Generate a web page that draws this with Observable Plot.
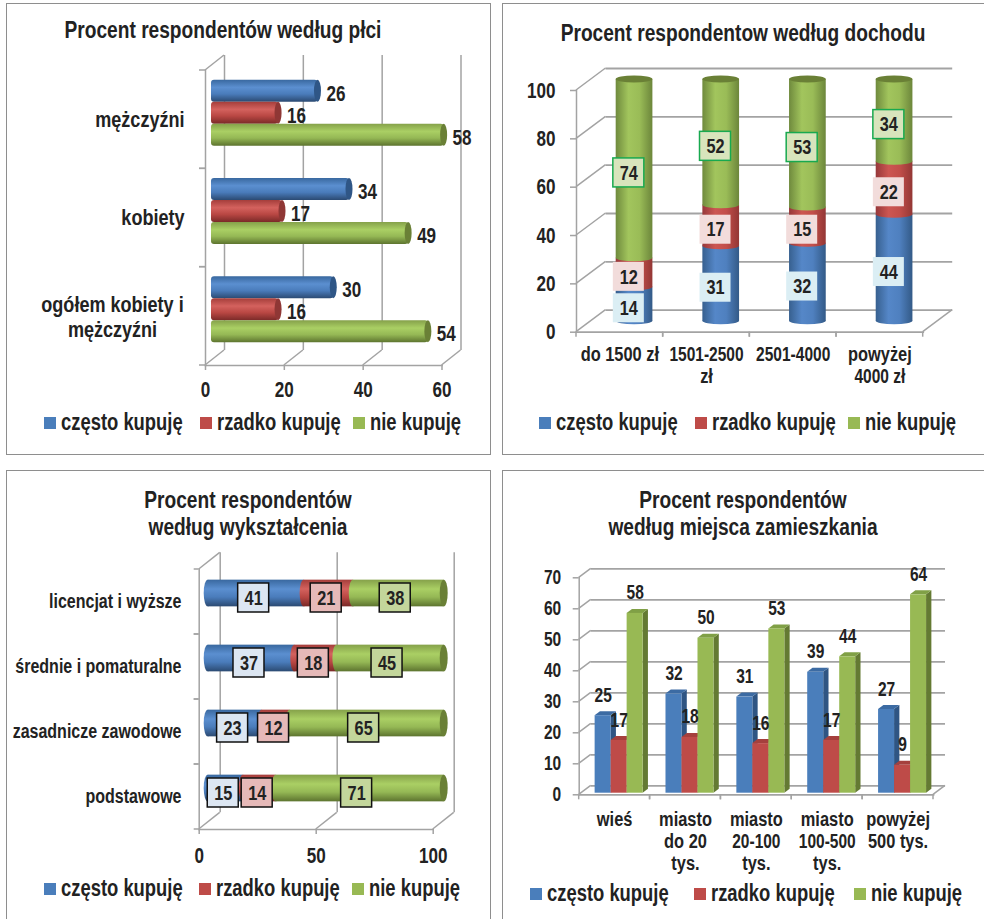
<!DOCTYPE html>
<html lang="pl">
<head>
<meta charset="utf-8">
<script src="https://cdn.jsdelivr.net/npm/d3@7"></script>
<script src="https://cdn.jsdelivr.net/npm/@observablehq/plot@0.6"></script>
<style>
  html, body { margin: 0; background: #fff; }
  #page { position: relative; width: 984px; height: 919px; overflow: hidden;
          font-family: "Liberation Sans", Arial, sans-serif; font-weight: 700; color: #222; }
  .box { position: absolute; border: 1.5px solid #8e8e8e; box-sizing: border-box; }
  .ttl { position: absolute; transform: translateX(-50%) scaleX(.832); text-align: center; font-size: 23px; line-height: 26.5px; white-space: nowrap; }
  .lg { position: absolute; font-size: 23px; line-height: 24px; white-space: nowrap; transform: scaleX(.80); transform-origin: left center; }
  .sw { position: absolute; width: 12px; height: 12px; }
  svg { position: absolute; overflow: visible; }
</style>
</head>
<body>
<div id="page"></div>
<script>
// ---------- data ----------
const seriesNames = ["często kupuję", "rzadko kupuję", "nie kupuję"];

const genderCats = ["mężczyźni", "kobiety", "ogółem kobiety i\nmężczyźni"];
const genderOften = [26, 34, 30];
const genderRarely = [16, 17, 16];
const genderNever = [58, 49, 54];
const genderTicks = [0, 20, 40, 60];

const incomeCats = ["do 1500 zł", "1501-2500\nzł", "2501-4000", "powyżej\n4000 zł"];
const incomeOften = [14, 31, 32, 44];
const incomeRarely = [12, 17, 15, 22];
const incomeNever = [74, 52, 53, 34];
const incomeTicks = [0, 20, 40, 60, 80, 100];

const eduCats = ["licencjat i wyższe", "średnie i pomaturalne", "zasadnicze zawodowe", "podstawowe"];
const eduOften = [41, 37, 23, 15];
const eduRarely = [21, 18, 12, 14];
const eduNever = [38, 45, 65, 71];
const eduTicks = [0, 50, 100];

const placeCats = ["wieś", "miasto\ndo 20\ntys.", "miasto\n20-100\ntys.", "miasto\n100-500\ntys.", "powyżej\n500 tys."];
const placeOften = [25, 32, 31, 39, 27];
const placeRarely = [17, 18, 16, 17, 9];
const placeNever = [58, 50, 53, 44, 64];
const placeTicks = [0, 10, 20, 30, 40, 50, 60, 70];

// ---------- style ----------
const FONT = '"Liberation Sans", Arial, sans-serif';
const INK = "#222";
const WALL = "#a3a3a3";
const swatch = ["#4a7ebb", "#be4b48", "#98b954"];
const sideCol = ["#2f5583", "#8a3533", "#647a33"];
const topCol = ["#3c6ba3", "#a5403d", "#80a046"];
const capCol = ["#2f5686", "#8f3735", "#6a8036"];
const hStops = [
  ["#39689f", "#5b8fd0", "#4a7cbb", "#2b4a72"],
  ["#a53e3b", "#d4625e", "#b94743", "#7a2a28"],
  ["#85a14a", "#aacf64", "#95b855", "#5d742f"]
];
const vStops = [
  ["#37608f", "#5587c8", "#4f80bf", "#335a87"],
  ["#96383a", "#cc5652", "#c24e4a", "#933735"],
  ["#6f8a3d", "#a2c55d", "#9abc57", "#6c863b"]
];
const page = document.getElementById("page");

// ---------- helpers ----------
function gradients(prefix, stops, vertical) {
  return () => {
    const s = d3.create("svg:defs");
    stops.forEach((st, i) => {
      const g = s.append("linearGradient").attr("id", prefix + i)
        .attr("x1", 0).attr("y1", 0).attr("x2", vertical ? 0 : 1).attr("y2", vertical ? 1 : 0);
      [0, .35, .65, 1].forEach((o, k) => g.append("stop").attr("offset", o).attr("stop-color", st[k]));
    });
    return s.node();
  };
}
// short oblique lines that give the walls and floor their depth
function depth(points, dx, dy, width = 1.5) {
  return (index, scales, values, dims) => {
    const g = d3.create("svg:g").attr("stroke", WALL).attr("stroke-width", width);
    points(scales, dims).forEach(([a, b]) => g.append("line").attr("x1", a).attr("y1", b).attr("x2", a + dx).attr("y2", b + dy));
    return g.node();
  };
}
// tick marks at the band edges of an ordinal axis
function edgeTicksX(size) {
  return (index, { x }, values, dims) => {
    const g = d3.create("svg:g").attr("stroke", WALL).attr("stroke-width", 1.5);
    const b = dims.height - dims.marginBottom;
    x.domain().flatMap(d => [x(d), x(d) + x.bandwidth()]).forEach(a =>
      g.append("line").attr("x1", a).attr("x2", a).attr("y1", b).attr("y2", b + size));
    return g.node();
  };
}
function edgeTicksY(size) {
  return (index, { y }, values, dims) => {
    const g = d3.create("svg:g").attr("stroke", WALL).attr("stroke-width", 1.5);
    const a = dims.marginLeft;
    y.domain().flatMap(d => [y(d), y(d) + y.bandwidth()]).forEach(b =>
      g.append("line").attr("x1", a - size).attr("x2", a).attr("y1", b).attr("y2", b));
    return g.node();
  };
}
function stacked(cats, arrays) {
  const cum = cats.map(() => 0);
  return arrays.map(arr => cats.map((cat, i) => {
    const start = cum[i]; cum[i] += arr[i];
    return { cat, value: arr[i], start, end: cum[i], mid: start + arr[i] / 2 };
  }));
}
// the reference uses a narrow bold face: condense each rendered line of text
function condense(svg) {
  svg.querySelectorAll("text").forEach(t => {
    const lines = t.querySelectorAll("tspan");
    (lines.length ? [...lines] : [t]).forEach(el => {
      const s = el.textContent;
      const digits = (s.match(/[0-9]/g) || []).length;
      const f = digits * 2 >= s.length ? 0.775 : 0.82;
      el.setAttribute("textLength", el.getComputedTextLength() * f);
      el.setAttribute("lengthAdjust", "spacingAndGlyphs");
    });
  });
}
function place(box, frame, options) {
  const chart = Plot.plot({
    width: box.w, height: box.h,
    marginLeft: frame.x0 - box.x, marginRight: box.x + box.w - frame.x1,
    marginTop: frame.y0 - box.y, marginBottom: box.y + box.h - frame.y1,
    style: { fontFamily: FONT, fontWeight: 700, color: INK, background: "transparent", overflow: "visible" },
    ...options
  });
  const svg = chart.tagName.toLowerCase() === "svg" ? chart : chart.querySelector("svg");
  svg.style.left = box.x + "px"; svg.style.top = box.y + "px";
  page.appendChild(chart);
  condense(svg);
}
function panel(box, title, tx, ty, lgY, lg) {
  const b = document.createElement("div"); b.className = "box";
  b.style.cssText = `left:${box.x}px;top:${box.y}px;width:${box.bw}px;height:${box.bh}px`;
  page.appendChild(b);
  const t = document.createElement("div"); t.className = "ttl"; t.innerHTML = title;
  t.style.left = tx + "px"; t.style.top = ty + "px"; page.appendChild(t);
  seriesNames.forEach((name, i) => {
    const s = document.createElement("div"); s.className = "sw";
    s.style.cssText = `left:${lg[i]}px;top:${lgY - 6}px;background:${swatch[i]}`; page.appendChild(s);
    const l = document.createElement("div"); l.className = "lg"; l.textContent = name;
    l.style.left = (lg[i] + 17) + "px"; l.style.top = (lgY - 13) + "px"; page.appendChild(l);
  });
}

// ---------- panel 1: gender ----------
{
  const box = { x: 6, y: 3, w: 484, h: 451, bw: 484.5, bh: 451.5 };
  const frame = { x0: 205, x1: 441.5, y0: 70, y1: 365 };
  panel(box, "Procent respondentów według płci", 222.5, 17, 423, [44, 200, 353]);
  const D = { dx: 19, dy: -15 }, h = 22, band = (frame.y1 - frame.y0) / 3;
  const rows = [genderOften, genderRarely, genderNever].map(a => genderCats.map((cat, i) => ({ cat, value: a[i] })));
  const marks = [
    gradients("p1g", hStops, true),
    Plot.ruleX(genderTicks, { x: d => d, ...D, stroke: WALL, strokeWidth: 1.5 }),
    depth(({ x }, d) => [...genderTicks.map(t => [x(t), d.height - d.marginBottom]), [x(0), d.marginTop]], D.dx, D.dy),
    Plot.frame({ anchor: "left", stroke: WALL, strokeWidth: 1.5 }),
    Plot.frame({ anchor: "bottom", stroke: WALL, strokeWidth: 1.5 }),
    edgeTicksY(6),
    Plot.axisX({ ticks: genderTicks, tickSize: 5, tickPadding: 10.5, stroke: WALL, strokeWidth: 1.5, fill: INK, fontSize: 22, label: null }),
    Plot.axisY({ ticks: genderCats.slice(0, 2), tickSize: 0, tickPadding: 21, fontSize: 22, label: null, fill: INK }),
    Plot.text([genderCats[2]], { y: d => d, text: d => d, frameAnchor: "left", textAnchor: "middle", dx: -93, fontSize: 22, lineHeight: 1.17, fill: INK })
  ];
  rows.forEach((r, i) => {
    const off = { dx: 6, dy: -6.5 + (i - 1) * h };
    const inset = { insetTop: (band - h) / 2, insetBottom: (band - h) / 2 };
    marks.push(
      Plot.barX(r, { y: "cat", x1: 0, x2: "value", fill: `url(#p1g${i})`, ...inset, ...off, insetRight: -4, rx: 3 }),
      Plot.barX(r, { y: "cat", x1: "value", x2: "value", fill: capCol[i], ...inset, dx: off.dx + 4, dy: off.dy, insetLeft: -3.5, insetRight: -3.5, rx: 3.5, ry: h / 2 })
    );
  });
  rows.forEach((r, i) => marks.push(
    Plot.text(r, { y: "cat", x: "value", text: "value", textAnchor: "start", dx: 18.5, dy: -4 + (i - 1) * h, fontSize: 22, fill: INK })
  ));
  place(box, frame, { x: { domain: [0, 60], axis: null }, y: { domain: genderCats, padding: 0, round: false, axis: null }, marks });
}

// ---------- panel 2: income ----------
{
  const box = { x: 502, y: 3, w: 482, h: 451, bw: 490, bh: 451.5 };
  const frame = { x0: 576, x1: 922.7, y0: 90, y1: 331.7 };
  panel(box, "Procent respondentow według dochodu", 743.3, 20, 423, [539, 695, 848]);
  const D = { dx: 29.5, dy: -22 }, w = 36.7, band = (frame.x1 - frame.x0) / 4;
  const inset = { insetLeft: (band - w) / 2, insetRight: (band - w) / 2 };
  const off = { dx: 14.7, dy: -11 };
  const stacks = stacked(incomeCats, [incomeOften, incomeRarely, incomeNever]);
  const marks = [
    gradients("p2g", vStops, false),
    Plot.ruleY(incomeTicks, { y: d => d, ...D, stroke: WALL, strokeWidth: 1.8 }),
    depth(({ y }, d) => [...incomeTicks.map(t => [d.marginLeft, y(t)]), [d.width - d.marginRight, d.height - d.marginBottom]], D.dx, D.dy),
    Plot.frame({ anchor: "left", stroke: WALL, strokeWidth: 1.5 }),
    Plot.frame({ anchor: "bottom", stroke: WALL, strokeWidth: 1.8 }),
    edgeTicksX(5),
    Plot.axisY({ ticks: incomeTicks, tickSize: 6, tickPadding: 15, stroke: WALL, strokeWidth: 1.5, fill: INK, fontSize: 22, label: null }),
    Plot.axisX({ tickSize: 0, tickPadding: 12.5, fontSize: 20, fill: INK, label: null, lineHeight: 1.12, lineAnchor: "top" })
  ];
  stacks.forEach((r, i) => marks.push(
    Plot.barY(r, { x: "cat", y1: "start", y2: "end", fill: `url(#p2g${i})`, ...inset, ...off }),
    Plot.barY(r, { x: "cat", y1: "start", y2: "start", fill: `url(#p2g${i})`, ...inset, ...off, insetTop: -3.5, insetBottom: -3.5, rx: w / 2, ry: 3.5 })
  ));
  marks.push(Plot.barY(stacks[2], { x: "cat", y1: "end", y2: "end", fill: capCol[2], ...inset, ...off, insetTop: -3.5, insetBottom: -3.5, rx: w / 2, ry: 3.5 }));
  const lblFill = ["#dbeef4", "#f2dcdb", "#d8e4bc"], lblStroke = ["none", "none", "#18a94f"];
  const lb = { insetLeft: (band - 31) / 2, insetRight: (band - 31) / 2, insetTop: -14.5, insetBottom: -14.5, dx: 9, dy: -7 };
  stacks.forEach((r, i) => marks.push(
    Plot.barY(r, { x: "cat", y1: "mid", y2: "mid", fill: lblFill[i], stroke: lblStroke[i], strokeWidth: 1.5, ...lb }),
    Plot.text(r, { x: "cat", y: "mid", text: "value", dx: 9, dy: -7, fontSize: 21, fill: INK })
  ));
  place(box, frame, { x: { domain: incomeCats, padding: 0, round: false, axis: null }, y: { domain: [0, 100], axis: null }, marks });
}

// ---------- panel 3: education ----------
{
  const box = { x: 6, y: 470, w: 484, h: 449, bw: 484.5, bh: 460 };
  const frame = { x0: 198.7, x1: 432.7, y0: 569, y1: 829 };
  panel(box, "Procent respondentów<br>według wykształcenia", 247.5, 487, 889, [44, 199, 352]);
  const D = { dx: 21, dy: -16.7 }, h = 26.7, band = (frame.y1 - frame.y0) / 4;
  const inset = { insetTop: (band - h) / 2, insetBottom: (band - h) / 2 };
  const off = { dx: 9, dy: -8.5 };
  const stacks = stacked(eduCats, [eduOften, eduRarely, eduNever]);
  const marks = [
    gradients("p3g", hStops, true),
    Plot.ruleX(eduTicks, { x: d => d, ...D, stroke: WALL, strokeWidth: 1.5 }),
    depth(({ x }, d) => [...eduTicks.map(t => [x(t), d.height - d.marginBottom]), [x(0), d.marginTop]], D.dx, D.dy),
    Plot.frame({ anchor: "left", stroke: WALL, strokeWidth: 1.5 }),
    Plot.frame({ anchor: "bottom", stroke: WALL, strokeWidth: 1.5 }),
    edgeTicksY(5),
    Plot.axisX({ ticks: eduTicks, tickSize: 5, tickPadding: 13, stroke: WALL, strokeWidth: 1.5, fill: INK, fontSize: 22, label: null }),
    Plot.axisY({ tickSize: 0, tickPadding: 17.7, fontSize: 19.5, fill: INK, label: null })
  ];
  stacks.forEach((r, i) => marks.push(
    Plot.barX(r, { y: "cat", x1: "start", x2: "end", fill: `url(#p3g${i})`, ...inset, ...off, ...(i === 2 ? { insetRight: -2 } : {}) }),
    Plot.barX(r, { y: "cat", x1: "start", x2: "start", fill: `url(#p3g${i})`, ...inset, ...off, insetLeft: -4, insetRight: -4, rx: 4, ry: h / 2 })
  ));
  marks.push(Plot.barX(stacks[2], { y: "cat", x1: "end", x2: "end", fill: capCol[2], ...inset, dx: off.dx + 2, dy: off.dy, insetLeft: -4, insetRight: -4, rx: 4, ry: h / 2 }));
  const lblFill = ["#dce6f2", "#e6b9b8", "#c3d69b"];
  const lb = { insetLeft: -15.5, insetRight: -15.5, insetTop: (band - 29) / 2, insetBottom: (band - 29) / 2, dx: 6.5, dy: -4 };
  stacks.forEach((r, i) => marks.push(
    Plot.barX(r, { y: "cat", x1: "mid", x2: "mid", fill: lblFill[i], stroke: "#111", strokeWidth: 1.5, ...lb }),
    Plot.text(r, { y: "cat", x: "mid", text: "value", dx: 6.5, dy: -4, fontSize: 21, fill: INK })
  ));
  place(box, frame, { x: { domain: [0, 100], axis: null }, y: { domain: eduCats, padding: 0, round: false, axis: null }, marks });
}

// ---------- panel 4: place of residence ----------
{
  const box = { x: 502, y: 470, w: 482, h: 449, bw: 490, bh: 460 };
  const frame = { x0: 578.7, x1: 933, y0: 577.3, y1: 794.3 };
  panel(box, "Procent respondentów<br>według miejsca zamieszkania", 743, 487, 894, [530, 694, 854]);
  const D = { dx: 12, dy: -9 }, w = 16, band = (frame.x1 - frame.x0) / 5, shift = 4.5, lift = -1.6;
  const inset = { insetLeft: (band - w) / 2, insetRight: (band - w) / 2 };
  const rows = [placeOften, placeRarely, placeNever].map(a => placeCats.map((cat, i) => ({ cat, value: a[i] })));
  const solid3d = (r, i) => (index, { x, y }) => {
    const g = d3.create("svg:g"), d1 = 5.3, d2 = 4;
    r.forEach(({ cat, value }) => {
      const x0 = x(cat) + (band - w) / 2 + shift + (i - 1) * w, x1 = x0 + w, t = y(value) + lift, b = y(0) + lift;
      g.append("path").attr("fill", sideCol[i]).attr("d", `M${x1},${t}L${x1 + d1},${t - d2}L${x1 + d1},${b - d2}L${x1},${b}Z`);
      g.append("path").attr("fill", topCol[i]).attr("d", `M${x0},${t}L${x0 + d1},${t - d2}L${x1 + d1},${t - d2}L${x1},${t}Z`);
    });
    return g.node();
  };
  const marks = [
    Plot.ruleY(placeTicks, { y: d => d, ...D, stroke: WALL, strokeWidth: 1.8 }),
    depth(({ y }, d) => [...placeTicks.map(t => [d.marginLeft, y(t)]), [d.width - d.marginRight, d.height - d.marginBottom]], D.dx, D.dy),
    Plot.frame({ anchor: "left", stroke: WALL, strokeWidth: 1.5 }),
    Plot.frame({ anchor: "bottom", stroke: WALL, strokeWidth: 1.8 }),
    edgeTicksX(5),
    Plot.axisY({ ticks: placeTicks, tickSize: 6, tickPadding: 12, stroke: WALL, strokeWidth: 1.5, fill: INK, fontSize: 20, label: null }),
    Plot.axisX({ tickSize: 0, tickPadding: 16, fontSize: 20, fill: INK, label: null, lineHeight: 1.09, lineAnchor: "top" })
  ];
  rows.forEach((r, i) => marks.push(
    solid3d(r, i),
    Plot.barY(r, { x: "cat", y1: 0, y2: "value", fill: swatch[i], ...inset, dx: shift + (i - 1) * w, dy: lift })
  ));
  rows.forEach((r, i) => marks.push(
    Plot.text(r, { x: "cat", y: "value", text: "value", dx: shift + (i - 1) * w, dy: -22, fontSize: 20, fill: INK })
  ));
  place(box, frame, { x: { domain: placeCats, padding: 0, round: false, axis: null }, y: { domain: [0, 70], axis: null }, marks });
}
</script>
</body>
</html>
